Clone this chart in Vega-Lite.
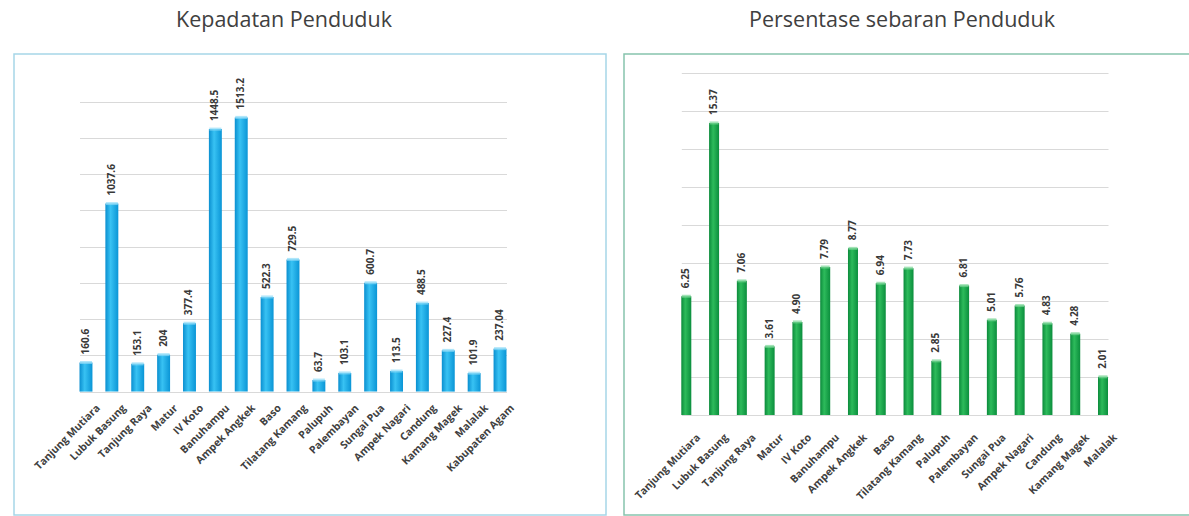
{
  "$schema": "https://vega.github.io/schema/vega-lite/v6.json",
  "padding": {"left": 13, "top": 8, "right": 0, "bottom": 0},
  "background": "white",
  "spacing": 16,
  "config": {
    "font": "Open Sans",
    "title": {"font": "Open Sans", "fontSize": 21.5, "fontWeight": "normal", "color": "#404040", "anchor": "middle", "frame": "group"},
    "axis": {"labelFont": "Open Sans"}
  },
  "datasets": {
    "kepadatan": [
      {"kecamatan": "Tanjung Mutiara", "nilai": 160.6},
      {"kecamatan": "Lubuk Basung", "nilai": 1037.6},
      {"kecamatan": "Tanjung Raya", "nilai": 153.1},
      {"kecamatan": "Matur", "nilai": 204},
      {"kecamatan": "IV Koto", "nilai": 377.4},
      {"kecamatan": "Banuhampu", "nilai": 1448.5},
      {"kecamatan": "Ampek Angkek", "nilai": 1513.2},
      {"kecamatan": "Baso", "nilai": 522.3},
      {"kecamatan": "Tilatang Kamang", "nilai": 729.5},
      {"kecamatan": "Palupuh", "nilai": 63.7},
      {"kecamatan": "Palembayan", "nilai": 103.1},
      {"kecamatan": "Sungai Pua", "nilai": 600.7},
      {"kecamatan": "Ampek Nagari", "nilai": 113.5},
      {"kecamatan": "Candung", "nilai": 488.5},
      {"kecamatan": "Kamang Magek", "nilai": 227.4},
      {"kecamatan": "Malalak", "nilai": 101.9},
      {"kecamatan": "Kabupaten Agam", "nilai": 237.04}
    ],
    "persentase": [
      {"kecamatan": "Tanjung Mutiara", "nilai": 6.25},
      {"kecamatan": "Lubuk Basung", "nilai": 15.37},
      {"kecamatan": "Tanjung Raya", "nilai": 7.06},
      {"kecamatan": "Matur", "nilai": 3.61},
      {"kecamatan": "IV Koto", "nilai": 4.90},
      {"kecamatan": "Banuhampu", "nilai": 7.79},
      {"kecamatan": "Ampek Angkek", "nilai": 8.77},
      {"kecamatan": "Baso", "nilai": 6.94},
      {"kecamatan": "Tilatang Kamang", "nilai": 7.73},
      {"kecamatan": "Palupuh", "nilai": 2.85},
      {"kecamatan": "Palembayan", "nilai": 6.81},
      {"kecamatan": "Sungai Pua", "nilai": 5.01},
      {"kecamatan": "Ampek Nagari", "nilai": 5.76},
      {"kecamatan": "Candung", "nilai": 4.83},
      {"kecamatan": "Kamang Magek", "nilai": 4.28},
      {"kecamatan": "Malalak", "nilai": 2.01}
    ]
  },
  "hconcat": [
    {
      "width": 592,
      "height": 461,
      "view": {"stroke": "#a6d6e8", "strokeWidth": 1.5, "fill": "white"},
      "title": {"text": "Kepadatan Penduduk", "dx": -26, "offset": 6, "baseline": "alphabetic"},
      "data": {"name": "kepadatan"},
      "layer": [
        {
          "mark": {"type": "bar", "color": {"gradient": "linear", "x1": 0, "x2": 1, "y1": 0, "y2": 0, "stops": [{"offset": 0, "color": "#0a8fd0"}, {"offset": 0.4, "color": "#38c2f3"}, {"offset": 1, "color": "#0a95d6"}]}},
          "encoding": {
            "x": {"field": "kecamatan", "type": "nominal", "sort": null,
              "scale": {"range": [65.5, 492.5], "paddingInner": 0.5, "paddingOuter": 0},
              "axis": {"title": null, "orient": "bottom", "offset": -123.4, "domain": false, "ticks": false, "labelAngle": -45, "labelFontSize": 10.5, "labelFontWeight": "bold", "labelColor": "#404040", "labelPadding": 11, "labelOffset": 9}},
            "y": {"field": "nilai", "type": "quantitative", "scale": {"domain": [-681, 1863], "nice": false, "zero": false},
              "axis": {"title": null, "values": [0, 200, 400, 600, 800, 1000, 1200, 1400, 1600], "labels": false, "ticks": false, "domain": false, "grid": true, "gridColor": "#d9d9d9"}}
          }
        },
        {
          "mark": {"type": "tick", "orient": "horizontal", "thickness": 3, "size": 12, "color": "#8fdcf8"},
          "encoding": {
            "x": {"field": "kecamatan", "type": "nominal", "sort": null},
            "y": {"field": "nilai", "type": "quantitative"}
          }
        },
        {
          "mark": {"type": "text", "angle": 270, "align": "left", "baseline": "middle", "dx": 8, "fontSize": 10, "fontWeight": "bold", "color": "#383838"},
          "encoding": {
            "x": {"field": "kecamatan", "type": "nominal", "sort": null, "bandPosition": 0.5},
            "y": {"field": "nilai", "type": "quantitative"},
            "text": {"field": "nilai", "type": "quantitative"}
          }
        }
      ]
    },
    {
      "width": 570,
      "height": 461,
      "view": {"stroke": "#86c4ad", "strokeWidth": 1.5, "fill": "white"},
      "title": {"text": "Persentase sebaran Penduduk", "dx": -7, "offset": 6, "baseline": "alphabetic"},
      "data": {"name": "persentase"},
      "layer": [
        {
          "mark": {"type": "bar", "color": {"gradient": "linear", "x1": 0, "x2": 1, "y1": 0, "y2": 0, "stops": [{"offset": 0, "color": "#0b8a3b"}, {"offset": 0.4, "color": "#2dbb5b"}, {"offset": 1, "color": "#0b8e3d"}]}},
          "encoding": {
            "x": {"field": "kecamatan", "type": "nominal", "sort": null,
              "scale": {"range": [57.3, 484], "paddingInner": 0.64, "paddingOuter": 0},
              "axis": {"title": null, "orient": "bottom", "offset": -100, "domain": false, "ticks": false, "labelAngle": -45, "labelFontSize": 10.5, "labelFontWeight": "bold", "labelColor": "#404040", "labelPadding": 17, "labelOffset": 9}},
            "y": {"field": "nilai", "type": "quantitative", "scale": {"domain": [-5.263, 19.0], "nice": false, "zero": false},
              "axis": {"title": null, "values": [0, 2, 4, 6, 8, 10, 12, 14, 16, 18], "labels": false, "ticks": false, "domain": false, "grid": true, "gridColor": "#d9d9d9"}}
          }
        },
        {
          "mark": {"type": "tick", "orient": "horizontal", "thickness": 3, "size": 9, "color": "#7ad697"},
          "encoding": {
            "x": {"field": "kecamatan", "type": "nominal", "sort": null},
            "y": {"field": "nilai", "type": "quantitative"}
          }
        },
        {
          "mark": {"type": "text", "angle": 270, "align": "left", "baseline": "middle", "dx": 8, "fontSize": 10, "fontWeight": "bold", "color": "#383838"},
          "encoding": {
            "x": {"field": "kecamatan", "type": "nominal", "sort": null, "bandPosition": 0.5},
            "y": {"field": "nilai", "type": "quantitative"},
            "text": {"field": "nilai", "type": "quantitative", "format": ".2f"}
          }
        }
      ]
    }
  ]
}
